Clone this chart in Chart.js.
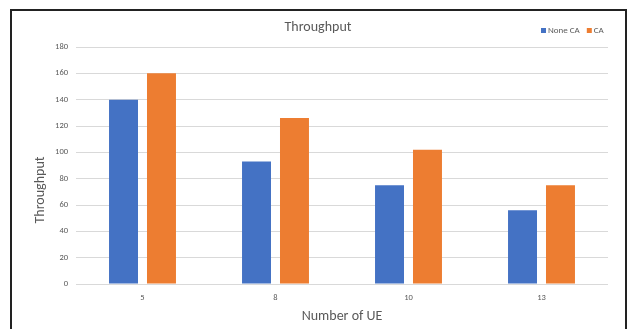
<!DOCTYPE html>
<html>
<head>
<meta charset="utf-8">
<script src="https://cdn.jsdelivr.net/npm/chart.js@4/dist/chart.umd.min.js"></script>
<style>
  html, body { margin: 0; padding: 0; background: #fff; }
  #wrap { position: relative; width: 631px; height: 329px; overflow: hidden; }
  #c { position: absolute; left: 0; top: 0; }
  #frame {
    position: absolute; left: 10px; top: 9px; width: 617px; height: 340px;
    border: 2px solid #222; box-sizing: border-box; pointer-events: none;
  }
</style>
</head>
<body>
<div id="wrap">
  <canvas id="c" width="631" height="329"></canvas>
  <div id="frame"></div>
</div>
<script>
// Number of UEs per scenario
const categories = ['5', '8', '10', '13'];
// Throughput without carrier aggregation
const noneCA = [140, 93, 75, 56];
// Throughput with carrier aggregation
const withCA = [160, 126, 102, 75];
const yTicks = [0, 20, 40, 60, 80, 100, 120, 140, 160, 180];

const FONT = 'Calibri, Carlito, "Open Sans", "Liberation Sans", sans-serif';
const TXT = '#595959';

// Chart title, y-axis title and top-right legend drawn on the canvas
const headerPlugin = {
  id: 'header',
  afterDraw(chart) {
    const ctx = chart.ctx;
    ctx.save();
    ctx.fillStyle = TXT;
    ctx.font = '14px ' + FONT;
    ctx.textAlign = 'center';
    ctx.textBaseline = 'middle';
    ctx.fillText('Throughput', 318, 27);

    ctx.save();
    ctx.translate(40, 190);
    ctx.rotate(-Math.PI / 2);
    ctx.fillText('Throughput', 0, 0);
    ctx.restore();

    ctx.font = '9px ' + FONT;
    ctx.textAlign = 'left';
    let x = 541;
    chart.data.datasets.forEach(ds => {
      ctx.fillStyle = ds.backgroundColor;
      ctx.fillRect(x, 28, 5, 5);
      ctx.fillStyle = TXT;
      ctx.fillText(ds.label, x + 7, 30.5);
      x += 7 + ctx.measureText(ds.label).width + 7;
    });
    ctx.restore();
  }
};

new Chart(document.getElementById('c'), {
  type: 'bar',
  data: {
    labels: categories,
    datasets: [
      { label: 'None CA', data: noneCA, backgroundColor: '#4472C4' },
      { label: 'CA', data: withCA, backgroundColor: '#ED7D31' }
    ]
  },
  options: {
    responsive: false,
    animation: false,
    devicePixelRatio: 1,
    layout: { padding: { top: 47, right: 23, bottom: 0, left: 0 } },
    categoryPercentage: 0.571,
    barPercentage: 0.763,
    plugins: {
      legend: { display: false },
      title: { display: false },
      tooltip: { enabled: false }
    },
    scales: {
      x: {
        grid: { display: false },
        border: { display: false },
        ticks: { color: TXT, font: { size: 8.5, family: FONT }, padding: 1 },
        title: { display: true, text: 'Number of UE', color: TXT, font: { size: 14, family: FONT }, padding: { top: 3 } },
        afterFit(s) { s.height = 45; }
      },
      y: {
        min: 0, max: 180,
        afterBuildTicks(s) { s.ticks = yTicks.map(v => ({ value: v })); },
        grid: { color: '#d9d9d9', lineWidth: 1, drawTicks: false },
        border: { display: false },
        ticks: { color: TXT, font: { size: 8.5, family: FONT }, padding: 8 },
        afterFit(s) { s.width = 76; }
      }
    }
  },
  plugins: [headerPlugin]
});
</script>
</body>
</html>
